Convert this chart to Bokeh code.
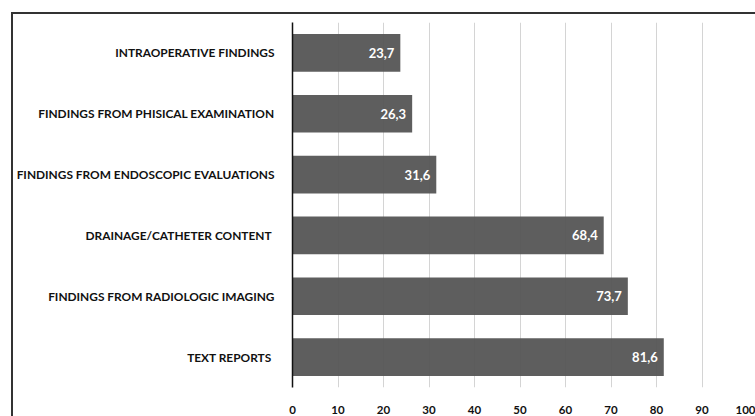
from bokeh.plotting import figure
from bokeh.models import FactorRange, ColumnDataSource, FixedTicker
from bokeh.core.properties import value
from bokeh.embed import file_html
from bokeh.resources import INLINE

categories = [
    "INTRAOPERATIVE FINDINGS",
    "FINDINGS FROM PHISICAL EXAMINATION",
    "FINDINGS FROM ENDOSCOPIC EVALUATIONS",
    "DRAINAGE/CATHETER CONTENT ",
    "FINDINGS FROM RADIOLOGIC IMAGING",
    "TEXT REPORTS ",
]
values = [23.7, 26.3, 31.6, 68.4, 73.7, 81.6]
labels = ["23,7", "26,3", "31,6", "68,4", "73,7", "81,6"]
x_ticks = [0, 10, 20, 30, 40, 50, 60, 70, 80, 90, 100]

FONT = "Lato"

src = ColumnDataSource(dict(cat=categories, val=values, lab=labels))

p = figure(
    width=744, height=404,
    y_range=FactorRange(factors=list(reversed(categories)), range_padding=0),
    x_range=(0, 100),
    output_backend="svg", toolbar_location=None,
    min_border_left=275, min_border_right=10, min_border_top=8, min_border_bottom=31,
)
p.margin = (12, 0, 0, 11)
p.styles = {"border-left": "2px solid #333", "border-top": "2px solid #333",
            "box-sizing": "border-box"}
p.outline_line_color = None

p.hbar(y="cat", right="val", left=0, height=0.62, source=src,
       fill_color="#555555", fill_alpha=0.95, line_color=None)
p.text(x="val", y="cat", text="lab", source=src, x_offset=-6,
       text_align="right", text_baseline="middle", text_color="white",
       text_font=value(FONT), text_font_style="bold", text_font_size="13px")

p.ygrid.grid_line_color = None
p.xgrid.grid_line_color = "#d4d4d4"
p.xgrid.ticker = FixedTicker(ticks=x_ticks)

p.xaxis.ticker = FixedTicker(ticks=x_ticks)
p.xaxis.axis_line_color = None
p.xaxis.major_tick_line_color = None
p.xaxis.minor_tick_line_color = None
p.xaxis.major_label_text_font = FONT
p.xaxis.major_label_text_font_style = "bold"
p.xaxis.major_label_text_font_size = "11.5px"
p.xaxis.major_label_text_color = "#111111"
p.xaxis.major_label_standoff = 12

p.yaxis.axis_line_color = "#111111"
p.yaxis.axis_line_width = 1.5
p.yaxis.major_tick_line_color = None
p.yaxis.minor_tick_line_color = None
p.yaxis.major_label_text_font = FONT
p.yaxis.major_label_text_font_style = "bold"
p.yaxis.major_label_text_font_size = "11.9px"
p.yaxis.major_label_text_color = "#111111"
p.yaxis.major_label_standoff = 12

open("out.html", "w").write(file_html(p, INLINE))
